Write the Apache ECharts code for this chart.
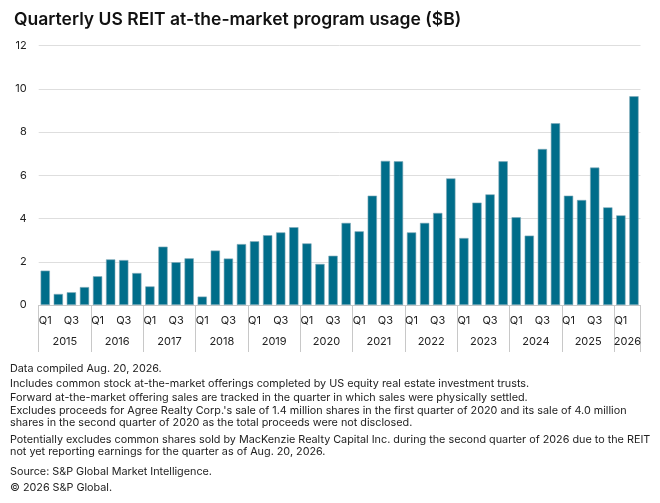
<!DOCTYPE html>
<html>
<head>
<meta charset="utf-8">
<script src="https://cdn.jsdelivr.net/npm/echarts@6/dist/echarts.min.js"></script>
<style>
html,body{margin:0;padding:0;background:#fff;}
#main{width:660px;height:503px;}
</style>
</head>
<body>
<div id="main"></div>
<script>
const years = ['2015','2016','2017','2018','2019','2020','2021','2022','2023','2024','2025','2026'];
const quarters = ['Q1','Q2','Q3','Q4'];
const values = [
  1.59, 0.51, 0.59, 0.83,
  1.33, 2.11, 2.08, 1.48,
  0.86, 2.70, 1.98, 2.16,
  0.39, 2.52, 2.15, 2.82,
  2.95, 3.23, 3.36, 3.60,
  2.85, 1.90, 2.28, 3.80,
  3.41, 5.06, 6.67, 6.65,
  3.36, 3.80, 4.26, 5.86,
  3.10, 4.74, 5.12, 6.65,
  4.06, 3.21, 7.22, 8.41,
  5.06, 4.86, 6.36, 4.52,
  4.15, 9.66
];
const yTicks = [0, 2, 4, 6, 8, 10, 12];
const titleText = 'Quarterly US REIT at-the-market program usage ($B)';
const footnotes = [
  'Data compiled Aug. 20, 2026.',
  'Includes common stock at-the-market offerings completed by US equity real estate investment trusts.',
  'Forward at-the-market offering sales are tracked in the quarter in which sales were physically settled.',
  "Excludes proceeds for Agree Realty Corp.'s sale of 1.4 million shares in the first quarter of 2020 and its sale of 4.0 million",
  'shares in the second quarter of 2020 as the total proceeds were not disclosed.',
  'Potentially excludes common shares sold by MacKenzie Realty Capital Inc. during the second quarter of 2026 due to the REIT',
  'not yet reporting earnings for the quarter as of Aug. 20, 2026.',
  'Source: S&P Global Market Intelligence.',
  '\u00a9 2026 S&P Global.'
];
const footY = [369, 384, 398, 411, 423, 440, 452, 472, 488];

const categories = [];
values.forEach((v, i) => {
  categories.push(years[Math.floor(i / 4)] + ' ' + quarters[i % 4]);
});
const n = values.length;
const boundaries = [];
for (let i = 0; i < n; i += 4) boundaries.push(i);
boundaries.push(n);
const yearCenters = [];
for (let k = 0; k < boundaries.length - 1; k++) {
  yearCenters.push((boundaries[k] + boundaries[k + 1]) / 2);
}

const FONT = 'Inter, Liberation Sans, Arial, sans-serif';
const chart = echarts.init(document.getElementById('main'), null, {renderer: 'canvas'});
chart.setOption({
  animation: false,
  backgroundColor: '#fff',
  title: {
    text: titleText,
    left: 9, top: 6,
    textStyle: {fontFamily: FONT, fontSize: 17.5, fontWeight: 600, color: '#111'}
  },
  grid: {left: 38.7, right: 19.5, top: 45.7, bottom: 198, containLabel: false},
  xAxis: [
    {
      type: 'category',
      data: categories,
      axisLine: {show: true, lineStyle: {color: '#c8c8c8', width: 1}},
      axisTick: {show: false},
      axisLabel: {
        interval: 1,
        margin: 10,
        fontFamily: FONT, fontSize: 11, color: '#222',
        formatter: (v) => v.split(' ')[1]
      },
      splitLine: {show: false}
    },
    {
      type: 'value',
      position: 'bottom',
      min: 0, max: n,
      axisLine: {show: false},
      axisTick: {show: true, inside: false, length: 47, customValues: boundaries,
        lineStyle: {color: '#c8c8c8', width: 1}},
      axisLabel: {
        customValues: yearCenters,
        margin: 31,
        fontFamily: FONT, fontSize: 11, color: '#222',
        formatter: (v) => years[Math.floor(v / 4)]
      },
      splitLine: {show: false}
    }
  ],
  yAxis: {
    type: 'value',
    min: 0, max: 12, interval: 2,
    axisLine: {show: false},
    axisTick: {show: false},
    axisLabel: {margin: 12, fontFamily: FONT, fontSize: 11, color: '#222',
      formatter: (v) => yTicks.indexOf(v) >= 0 ? String(v) : ''},
    splitLine: {lineStyle: {color: '#dedede', width: 1}}
  },
  series: [{
    type: 'bar',
    xAxisIndex: 0,
    data: values,
    barCategoryGap: '29%',
    itemStyle: {color: '#006d8a', borderColor: '#7fa9b8', borderWidth: 0.6}
  }],
  graphic: footnotes.map((t, i) => ({
    type: 'text',
    left: 10,
    top: footY[i] - 6,
    style: {text: t, fontFamily: FONT, fontSize: 10.8, fill: '#222'}
  }))
});
</script>
</body>
</html>
